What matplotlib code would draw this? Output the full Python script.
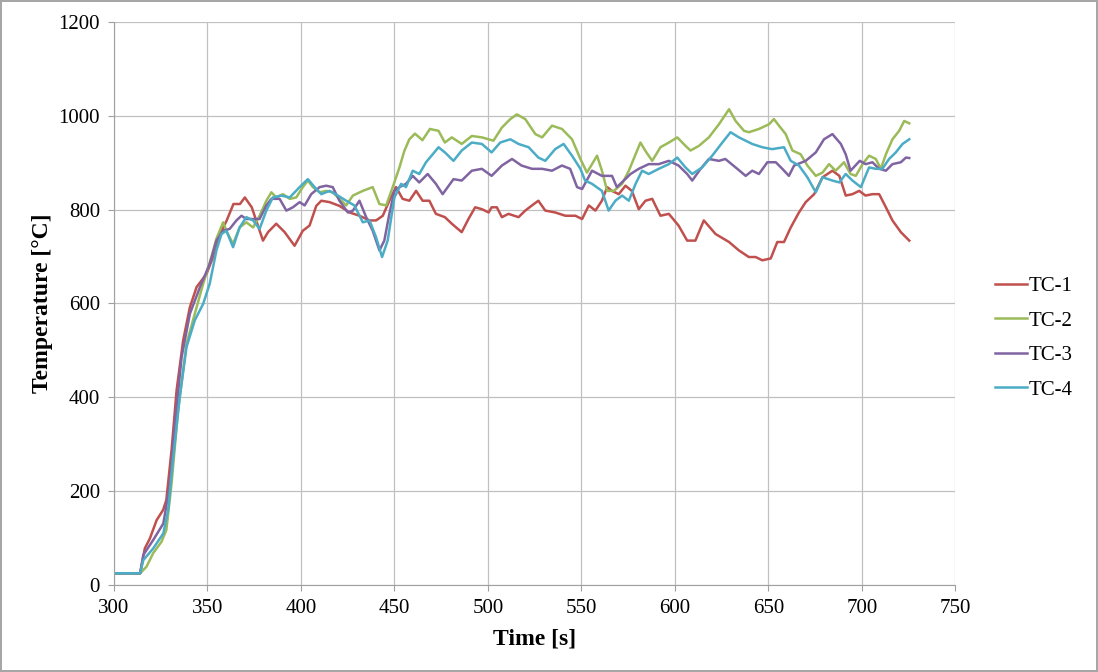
import matplotlib
matplotlib.use('Agg')
import matplotlib.pyplot as plt

plt.rcParams['font.family'] = ['Liberation Serif', 'DejaVu Serif']

# TC-1
t1 = [300, 314, 316.5, 319.2, 322.8, 326.3, 328, 330.8, 333.5, 337,
      340.6, 344.2, 349.5, 353, 356.8, 360.3, 363.9, 367.4, 370, 373.7,
      377, 379.7, 382.4, 386.8, 391.3, 396.6, 401, 404.6, 408.2, 410.9,
      415.3, 420.6, 426, 431.3, 436.7, 440.2, 443.8, 447.3, 450.9, 454.4,
      458, 461.6, 465.1, 468.7, 472.2, 477, 480.7, 486, 489.6, 493.2,
      496.8, 500.4, 502, 504.8, 507.5, 511, 516.4, 520, 523.6, 527,
      530.7, 536, 541.4, 546.8, 550.4, 554, 557.5, 561, 563.8, 566.4,
      570, 573.6, 577, 580.7, 584.3, 587.9, 592.3, 596.8, 602, 606.6,
      611, 615.5, 621.8, 629, 634.3, 639.6, 643.2, 646.8, 651.3, 654.8,
      658.4, 662, 666.4, 670, 674.5, 679, 684.3, 688, 691.4, 695,
      698.6, 702, 705.7, 709.3, 712.9, 716.4, 720.9, 725.4]
tc1 = [25, 25, 78, 99, 138, 160, 181, 287, 415, 521,
       592, 635, 663, 699, 748, 777, 812, 812, 826, 805,
       766, 734, 752, 770, 752, 723, 755, 766, 808, 819,
       816, 808, 794, 787, 777, 777, 787, 819, 848, 823,
       819, 840, 819, 819, 791, 784, 770, 752, 780, 805,
       801, 794, 805, 805, 784, 791, 784, 798, 809, 819,
       798, 794, 787, 787, 780, 809, 798, 819, 848, 840,
       833, 851, 840, 801, 819, 823, 787, 791, 766, 734,
       734, 777, 748, 731, 713, 699, 699, 692, 696, 731,
       731, 762, 794, 816, 833, 869, 883, 872, 830, 833,
       840, 830, 833, 833, 805, 777, 752, 734]

# TC-2
t2 = [300, 314, 317.4, 321, 325.4, 328, 330.8, 334.3, 338.8, 344.2,
      347.7, 352.1, 354.8, 358.4, 360.1, 363.7, 367.2, 370.8, 374.4, 377.9,
      381.5, 384.2, 386.8, 390.4, 394, 397.5, 401, 403.7, 406.4, 410,
      413.5, 417, 420.6, 424.2, 427.8, 433.1, 438.4, 442, 445.6, 449.1,
      452.7, 455.3, 458, 461, 465, 469, 473.6, 477, 480.7, 486,
      491.4, 496.8, 503, 507.5, 512, 515.5, 520, 525.4, 529, 534.3,
      539.6, 545, 549.5, 553, 558.4, 561, 563.8, 567.3, 571.8, 575.4,
      579, 581.6, 584.3, 587.9, 592.3, 596.8, 601.3, 605.7, 608.4, 612.9,
      618.2, 623.6, 629, 632.5, 637, 639.6, 645, 650.4, 653, 655.7,
      659.3, 662.9, 667.3, 670.9, 675.4, 679, 682.5, 686, 690.5, 694,
      696.8, 700.4, 703.9, 707.5, 710.2, 712.9, 716.4, 720, 722.7, 725.4]
tc2 = [25, 25, 39, 68, 92, 117, 216, 372, 514, 592,
       642, 699, 738, 773, 755, 727, 762, 773, 762, 787,
       819, 837, 826, 833, 823, 826, 848, 862, 848, 837,
       840, 837, 823, 809, 830, 840, 848, 812, 809, 848,
       890, 925, 950, 962, 948, 972, 968, 943, 954, 940,
       957, 954, 947, 975, 993, 1003, 993, 961, 954, 979,
       972, 950, 908, 879, 915, 883, 840, 840, 855, 883,
       918, 943, 925, 904, 933, 943, 954, 936, 926, 936,
       954, 982, 1014, 989, 968, 965, 972, 982, 993, 979,
       961, 926, 918, 894, 872, 879, 897, 883, 901, 876,
       872, 897, 915, 908, 887, 918, 950, 968, 989, 984]

# TC-3
t3 = [300, 314, 315.7, 321, 326.4, 330, 332.6, 336.2, 340.6, 346,
      351.2, 354.8, 358.4, 361.9, 365.5, 368.2, 370.8, 374.4, 377.9, 381.5,
      384.2, 388.6, 392.2, 395.7, 399.3, 402, 405.5, 410, 413.5, 417,
      420.6, 425.1, 427.8, 431.3, 434.9, 438.4, 442, 444.6, 447.3, 450,
      452.7, 456.2, 459.8, 463.3, 467.8, 472.2, 475.8, 481.6, 486, 491.4,
      496.8, 502, 507.5, 512.9, 518, 523.6, 529, 534.3, 539.6, 544,
      547.7, 550.4, 555.7, 561, 566.4, 569, 572.7, 576.3, 580.7, 586,
      591.4, 596.8, 602, 606.6, 609.3, 613.8, 618.2, 623.6, 627, 632.5,
      637.9, 641.4, 645, 649.5, 654, 657.5, 661, 663.8, 670, 675.4,
      679.8, 684.3, 688.8, 691.4, 694, 698.9, 702.1, 705.7, 709.3, 712.9,
      716.4, 720.9, 723.6, 725.4]
tc3 = [25, 25, 64, 96, 131, 216, 344, 486, 578, 635,
       684, 734, 755, 759, 777, 787, 780, 780, 780, 809,
       823, 823, 798, 805, 816, 809, 833, 848, 851, 848,
       819, 794, 798, 819, 784, 755, 713, 734, 791, 840,
       848, 855, 872, 858, 876, 855, 833, 865, 862, 883,
       887, 872, 894, 908, 894, 887, 887, 883, 894, 887,
       848, 844, 883, 872, 872, 848, 862, 876, 887, 897,
       897, 904, 894, 876, 862, 887, 908, 904, 908, 890,
       872, 883, 876, 901, 901, 887, 872, 894, 904, 922,
       950, 961, 940, 918, 883, 904, 897, 901, 887, 883,
       897, 901, 911, 910]

# TC-4
t4 = [300, 314, 315.7, 321, 326.4, 329, 331.7, 335.2, 338.8, 343.2,
      347.7, 351.2, 354.8, 357.5, 360.1, 363.7, 367.2, 370.8, 374.4, 377.9,
      381.5, 385, 389.5, 394, 399.3, 403.7, 407.3, 410.9, 415.3, 419.8,
      424.2, 428.6, 433.1, 436.7, 440.2, 443.4, 446.4, 450, 453.6, 456.2,
      459.8, 463.3, 466.9, 470.5, 473.6, 477, 481.6, 486, 491.4, 496.8,
      502, 506.6, 512, 516.4, 521.8, 527, 530.7, 536, 540.5, 545,
      549.5, 552, 555.7, 561, 564.6, 568.2, 571.8, 575.4, 579, 582.5,
      586, 591.4, 596.8, 601.3, 605.7, 609.3, 614.6, 620, 625.4, 629.8,
      634.3, 641.4, 646.8, 652, 658.4, 662, 666.4, 670.9, 675.4, 679,
      684.3, 688, 691.4, 695, 699.5, 703.9, 707.5, 711, 714.6, 718.2,
      721.8, 725.4]
tc4 = [25, 25, 53, 78, 110, 160, 273, 401, 507, 564,
       599, 642, 713, 748, 755, 720, 762, 784, 777, 759,
       798, 826, 830, 826, 848, 865, 848, 833, 840, 830,
       819, 809, 773, 777, 741, 699, 734, 826, 855, 848,
       883, 876, 901, 918, 933, 922, 904, 926, 943, 940,
       922, 943, 950, 940, 933, 911, 904, 929, 940, 915,
       887, 862, 855, 840, 798, 819, 830, 819, 855, 883,
       876, 887, 897, 911, 890, 876, 890, 915, 943, 965,
       954, 940, 933, 929, 933, 904, 894, 869, 837, 869,
       862, 858, 876, 862, 848, 890, 887, 887, 908, 922,
       940, 950]

labels = ['TC-1', 'TC-2', 'TC-3', 'TC-4']
colors = ['#C0504D', '#9BBB59', '#8064A2', '#4BACC6']

fig = plt.figure(figsize=(10.98, 6.72), dpi=100, linewidth=1.5, edgecolor='#A6A6A6')
ax = fig.add_axes([0.1038, 0.1295, 0.7662, 0.8378])

for t, v, lab, c in zip([t1, t2, t3, t4], [tc1, tc2, tc3, tc4], labels, colors):
    ax.plot(t, v, color=c, lw=1.8, label=lab)

ax.set_xlim(300, 750)
ax.set_ylim(0, 1200)
ax.set_xticks(range(300, 751, 50))
ax.set_yticks(range(0, 1201, 200))
ax.grid(True, color='#C0C0C0', lw=0.9)
ax.set_axisbelow(True)
for s in ['top', 'right']:
    ax.spines[s].set_visible(False)
for s in ['left', 'bottom']:
    ax.spines[s].set_color('#A0A0A0')
ax.tick_params(axis='both', colors='#A0A0A0', labelcolor='black', labelsize=15,
               length=4, pad=6, direction='out')
ax.set_xlabel('Time [s]', fontsize=17, fontweight='bold', labelpad=8)
ax.set_ylabel('Temperature [°C]', fontsize=17, fontweight='bold', labelpad=4)

fig.legend(loc='center left', bbox_to_anchor=(0.897, 0.497), frameon=False,
           fontsize=15, handlelength=1.5, handletextpad=0.1, labelspacing=0.72,
           borderpad=0)

fig.savefig('out.png', dpi=100, edgecolor=fig.get_edgecolor())
